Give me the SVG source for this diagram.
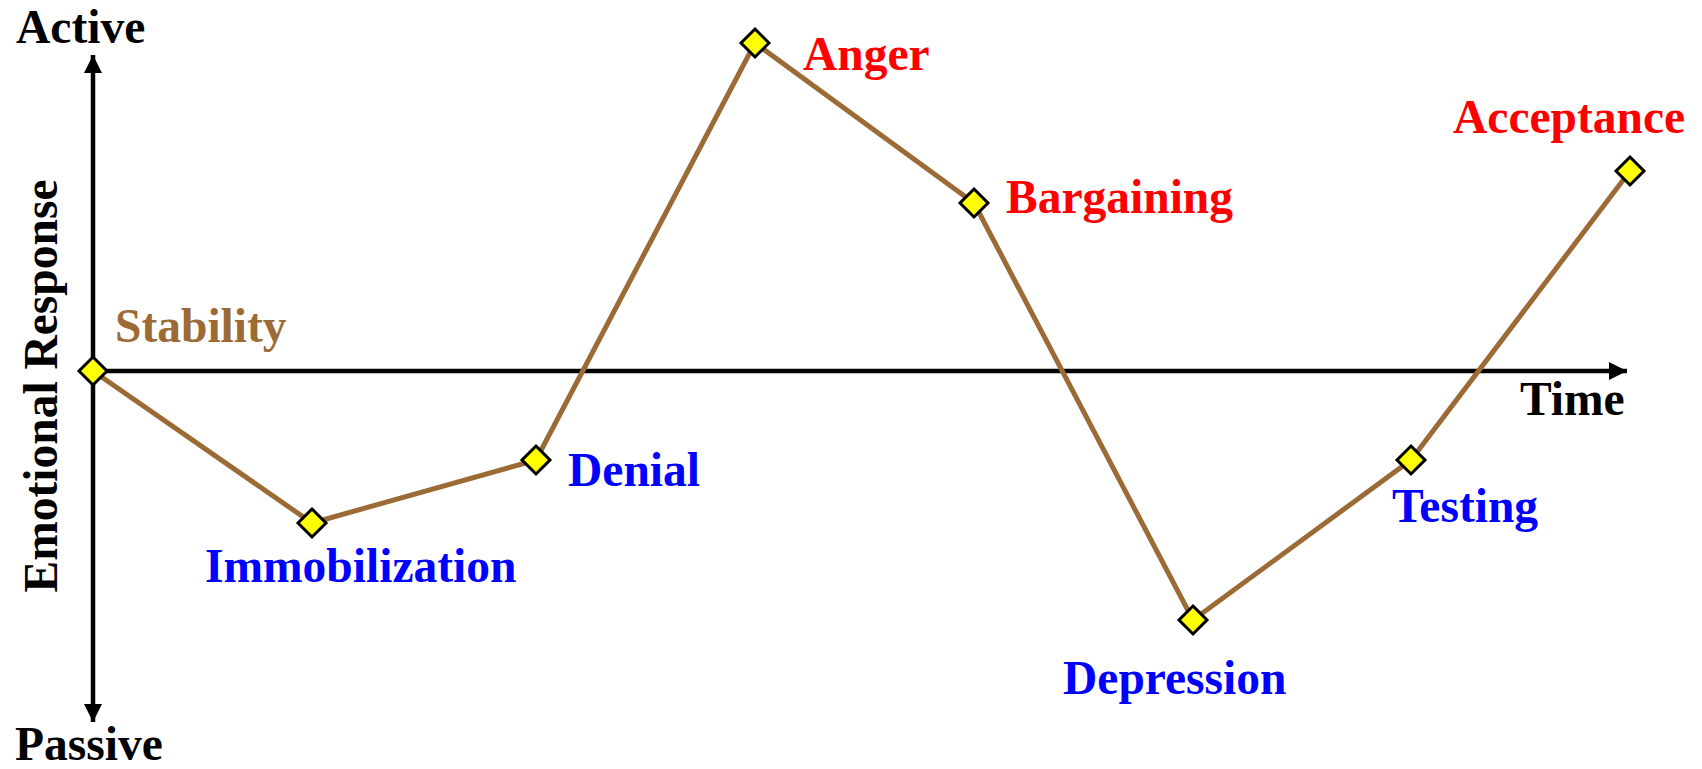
<svg xmlns="http://www.w3.org/2000/svg" width="1702" height="769" viewBox="0 0 1702 769">
<style>
text{font-family:"Liberation Serif","Times New Roman",serif;font-weight:bold;font-size:47.5px}
.ax{stroke:#000;stroke-width:4.5;fill:none}
.curve{stroke:#9C6A35;stroke-width:5;fill:none;stroke-linejoin:round}
.dm{fill:#FFFF00;stroke:#000;stroke-width:3}
.red{fill:#FF0000}.blue{fill:#0000FF}.brown{fill:#9C6A35}.blk{fill:#000}
</style>
<defs>
<marker id="arr" viewBox="0 0 10 10" refX="10" refY="5" markerWidth="4" markerHeight="4" orient="auto" markerUnits="strokeWidth">
<path d="M0,0 L10,5 L0,10 z" fill="#000"/>
</marker>
</defs>
<g id="axes">
<line class="ax" x1="93" y1="371" x2="93" y2="55" marker-end="url(#arr)"/>
<line class="ax" x1="93" y1="371" x2="93" y2="722" marker-end="url(#arr)"/>
<line class="ax" x1="93" y1="371" x2="1627" y2="371" marker-end="url(#arr)"/>
<text class="blk" x="16" y="43">Active</text>
<text class="blk" x="15" y="760">Passive</text>
<text class="blk" x="1520" y="415">Time</text>
<text class="blk" transform="translate(57,386) rotate(-90)" text-anchor="middle">Emotional Response</text>
</g>
<g id="connectors">
<polyline class="curve" points="93,371 312,523 536,460 755,43 974,203 1193,620 1411,460 1630,171"/>
</g>
<g id="stability"><polygon class="dm" points="93,357 107,371 93,385 79,371"/><text class="brown" x="115" y="342">Stability</text></g>
<g id="immobilization"><polygon class="dm" points="312,509 326,523 312,537 298,523"/><text class="blue" x="205" y="582">Immobilization</text></g>
<g id="denial"><polygon class="dm" points="536,446 550,460 536,474 522,460"/><text class="blue" x="568" y="486">Denial</text></g>
<g id="anger"><polygon class="dm" points="755,29 769,43 755,57 741,43"/><text class="red" x="803" y="70">Anger</text></g>
<g id="bargaining"><polygon class="dm" points="974,189 988,203 974,217 960,203"/><text class="red" x="1006" y="213">Bargaining</text></g>
<g id="depression"><polygon class="dm" points="1193,606 1207,620 1193,634 1179,620"/><text class="blue" x="1063" y="694">Depression</text></g>
<g id="testing"><polygon class="dm" points="1411,446 1425,460 1411,474 1397,460"/><text class="blue" x="1392" y="522">Testing</text></g>
<g id="acceptance"><polygon class="dm" points="1630,157 1644,171 1630,185 1616,171"/><text class="red" x="1453" y="133">Acceptance</text></g>
</svg>
